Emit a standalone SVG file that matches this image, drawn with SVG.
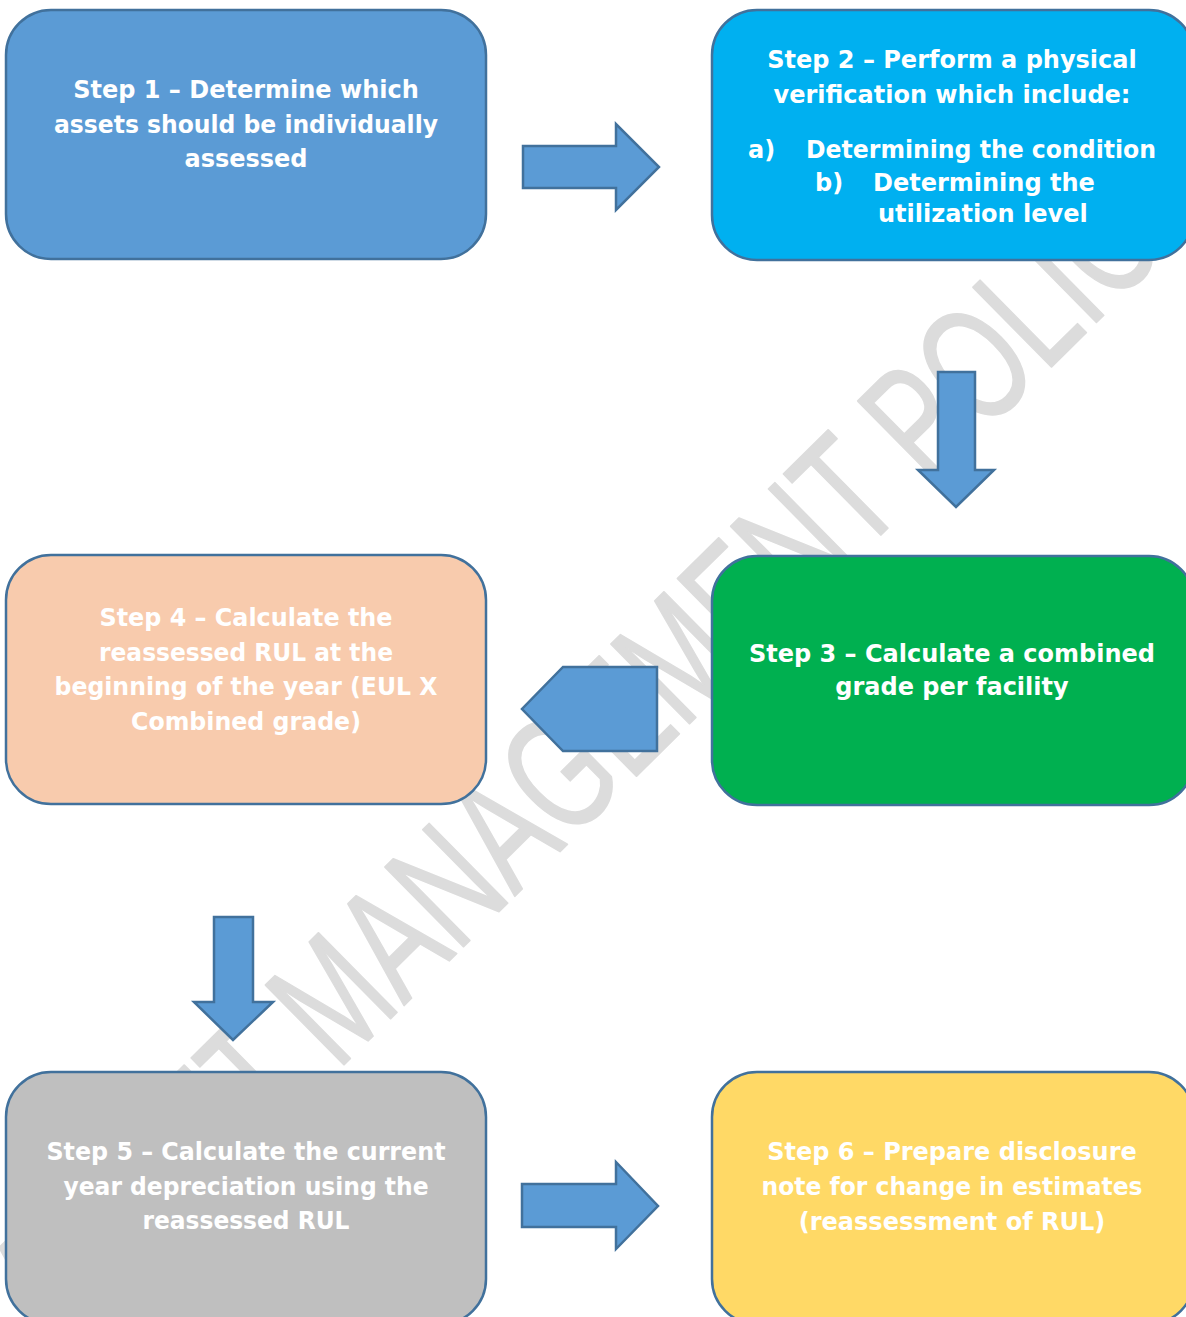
<svg xmlns="http://www.w3.org/2000/svg" width="1186" height="1317" viewBox="0 0 1186 1317">
<style>
.box{stroke:#41719C;stroke-width:2.5}
.arrow{fill:#5B9BD5;stroke:#41719C;stroke-width:2.5;stroke-linejoin:miter}
.t{font-family:"DejaVu Sans","Verdana",sans-serif;font-weight:bold;font-size:24px;fill:#FFFFFF}
.c{text-anchor:middle}
.wm{font-family:"Liberation Sans",Arial,sans-serif;font-size:112px;fill:#DCDCDC;stroke:#DCDCDC;stroke-width:1.2;stroke-linejoin:round}
</style>
<rect width="1186" height="1317" fill="#FFFFFF"/>
<g id="watermark">
<text class="wm" transform="translate(886,530) rotate(-44.6) scale(1,1.45)" x="-1167" y="0">ASSET MANAGEMENT POLICY</text>
</g>
<g id="step1">
<rect class="box" x="6" y="10" width="480" height="249" rx="45" ry="45" fill="#5B9BD5"/>
<text class="t c" x="246" y="98">Step 1 – Determine which</text>
<text class="t c" x="246" y="133" textLength="384" lengthAdjust="spacingAndGlyphs">assets should be individually</text>
<text class="t c" x="246" y="167">assessed</text>
</g>
<g id="step2">
<rect class="box" x="712" y="10" width="482" height="250" rx="45" ry="45" fill="#00B0F0"/>
<text class="t c" x="952" y="68">Step 2 – Perform a physical</text>
<text class="t c" x="952" y="103">verification which include:</text>
<text class="t" x="748" y="158">a)</text>
<text class="t" x="806" y="158" textLength="350" lengthAdjust="spacingAndGlyphs">Determining the condition</text>
<text class="t" x="815" y="191">b)</text>
<text class="t" x="873" y="191">Determining the</text>
<text class="t" x="878" y="222">utilization level</text>
</g>
<g id="step3">
<rect class="box" x="712" y="556" width="482" height="249" rx="45" ry="45" fill="#00B050"/>
<text class="t c" x="952" y="662">Step 3 – Calculate a combined</text>
<text class="t c" x="952" y="695">grade per facility</text>
</g>
<g id="step4">
<rect class="box" x="6" y="555" width="480" height="249" rx="45" ry="45" fill="#F8CBAD"/>
<text class="t c" x="246" y="626" textLength="293" lengthAdjust="spacingAndGlyphs">Step 4 – Calculate the</text>
<text class="t c" x="246" y="661" textLength="294" lengthAdjust="spacingAndGlyphs">reassessed RUL at the</text>
<text class="t c" x="246" y="695" textLength="383" lengthAdjust="spacingAndGlyphs">beginning of the year (EUL X</text>
<text class="t c" x="246" y="730" textLength="230" lengthAdjust="spacingAndGlyphs">Combined grade)</text>
</g>
<g id="step5">
<rect class="box" x="6" y="1072" width="480" height="252" rx="45" ry="45" fill="#BFBFBF"/>
<text class="t c" x="246" y="1160" textLength="399" lengthAdjust="spacingAndGlyphs">Step 5 – Calculate the current</text>
<text class="t c" x="246" y="1195" textLength="365" lengthAdjust="spacingAndGlyphs">year depreciation using the</text>
<text class="t c" x="246" y="1229" textLength="207" lengthAdjust="spacingAndGlyphs">reassessed RUL</text>
</g>
<g id="step6">
<rect class="box" x="712" y="1072" width="482" height="252" rx="45" ry="45" fill="#FFD966"/>
<text class="t c" x="952" y="1160">Step 6 – Prepare disclosure</text>
<text class="t c" x="952" y="1195" textLength="381" lengthAdjust="spacingAndGlyphs">note for change in estimates</text>
<text class="t c" x="952" y="1230">(reassessment of RUL)</text>
</g>
<g id="connectors">
<polygon class="arrow" points="523,146 616,146 616,124 659,167 616,210 616,188 523,188"/>
<polygon class="arrow" points="938,372 975,372 975,470 994,470 956,507 918,470 938,470"/>
<polygon class="arrow" points="657,667 657,751 563,751 522,709 563,667"/>
<polygon class="arrow" points="214,917 253,917 253,1002 273,1002 233,1040 194,1002 214,1002"/>
<polygon class="arrow" points="522,1184 616,1184 616,1162 658,1206 616,1249 616,1227 522,1227"/>
</g>
</svg>
